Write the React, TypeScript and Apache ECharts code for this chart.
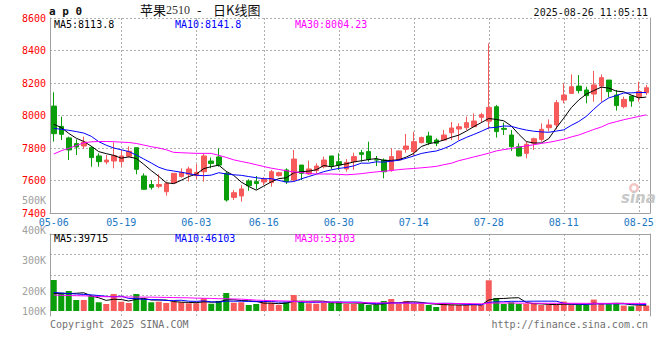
import React, { useEffect, useRef } from 'react';
import * as echarts from 'echarts';

// ---------- data ----------
const dates = [
  '05-06','05-07','05-08','05-09','05-12','05-13','05-14','05-15','05-16','05-19',
  '05-20','05-21','05-22','05-23','05-26','05-27','05-28','05-29','05-30',
  '06-03','06-04','06-05','06-06','06-09','06-10','06-11','06-12','06-13','06-16',
  '06-17','06-18','06-19','06-20','06-23','06-24','06-25','06-26','06-27','06-30',
  '07-01','07-02','07-03','07-04','07-07','07-08','07-09','07-10','07-11','07-14',
  '07-15','07-16','07-17','07-18','07-21','07-22','07-23','07-24','07-25','07-28',
  '07-29','07-30','07-31','08-01','08-04','08-05','08-06','08-07','08-08','08-11',
  '08-12','08-13','08-14','08-15','08-18','08-19','08-20','08-21','08-22','08-25','08-26',
];
const xTickLabels = ['05-06','05-19','06-03','06-16','06-30','07-14','07-28','08-11','08-25'];

const opens = [
  8058,7933,7862,7827,7812,7802,7751,7714,7720,7716,
  7749,7802,7628,7575,7564,7531,7585,7624,7638,7630,
  7654,7720,7745,7644,7496,7505,7597,7593,7591,7587,
  7630,7665,7603,7695,7640,7661,7685,7751,7716,7671,
  7716,7771,7778,7728,7726,7665,7726,7792,7778,7833,
  7874,7849,7849,7894,7917,7925,7931,7989,7965,8054,
  7921,7880,7808,7767,7829,7853,7925,7942,8095,8136,
  8181,8157,8132,8181,8218,8126,8054,8120,8112,8140,
];
const closes = [
  7888,7884,7788,7806,7837,7741,7716,7726,7753,7751,
  7780,7669,7546,7558,7575,7581,7644,7650,7671,7650,
  7751,7704,7695,7480,7525,7548,7568,7581,7607,7654,
  7648,7593,7732,7644,7671,7689,7726,7691,7695,7712,
  7747,7761,7730,7726,7654,7747,7782,7812,7839,7864,
  7833,7829,7880,7923,7931,7956,7966,8005,8050,7901,
  7915,7808,7751,7823,7857,7915,7942,8079,8126,8177,
  8153,8122,8188,8233,8147,8061,8099,8089,8147,8171,
];
const lows = [
  7839,7849,7726,7757,7794,7685,7685,7700,7675,7685,
  7741,7638,7546,7544,7552,7507,7581,7618,7593,7609,
  7593,7675,7685,7470,7480,7470,7537,7546,7572,7562,
  7624,7578,7593,7603,7634,7644,7675,7669,7665,7654,
  7665,7716,7716,7689,7613,7654,7722,7771,7751,7829,
  7818,7812,7845,7849,7849,7911,7931,7958,7915,7864,
  7880,7782,7747,7736,7788,7839,7901,7915,8075,8136,
  8136,8075,8085,8085,8112,8030,8044,8054,8085,8126,
];
const highs = [
  8143,7993,7870,7853,7870,7812,7767,7757,7835,7788,
  7810,7802,7644,7603,7638,7593,7644,7675,7685,7700,
  7767,7741,7798,7654,7541,7572,7607,7628,7620,7665,
  7654,7675,7788,7695,7722,7706,7747,7751,7767,7732,
  7771,7788,7839,7751,7736,7798,7784,7886,7900,7870,
  7900,7860,7911,7960,7952,7993,8013,8017,8444,8065,
  7956,7911,7829,7839,7864,7952,7976,8095,8198,8253,
  8249,8177,8274,8253,8218,8157,8116,8120,8208,8188,
];
// first moving-average points (their earlier closes are not shown in the picture)
const ma5Head = [7946, 7926, 7890, 7860];
const ma10Head = [7921, 7915, 7909, 7901, 7892, 7872, 7839, 7817, 7800];
const ma30 = [
  7763,7783,7798,7815,7832,7838,7840,7840,7839,7836,
  7834,7828,7818,7808,7800,7789,7773,7771,7769,7767,
  7767,7767,7755,7742,7727,7717,7708,7697,7686,7676,
  7668,7660,7653,7649,7643,7640,7640,7640,7638,7635,
  7638,7642,7648,7653,7657,7661,7667,7671,7674,7678,
  7682,7687,7697,7706,7722,7733,7745,7756,7768,7782,
  7790,7797,7805,7813,7820,7828,7835,7844,7854,7868,
  7880,7897,7914,7929,7950,7962,7974,7984,7994,8004,
];

const volumes = [
  217000,128000,140000,77000,77000,107000,61000,49000,119000,65000,
  56000,119000,84000,61000,65000,56000,65000,61000,54000,54000,
  89000,51000,70000,126000,58000,61000,42000,49000,65000,58000,
  42000,61000,112000,70000,54000,51000,56000,61000,65000,49000,
  49000,49000,42000,42000,70000,84000,49000,70000,49000,49000,
  42000,28000,56000,42000,42000,42000,42000,42000,215000,90000,
  49000,61000,49000,49000,49000,42000,42000,42000,66000,42000,
  42000,42000,80000,50000,48000,50000,38000,33000,40000,38000,
];
const volMa5Head = [124000, 122000, 122000, 124000];
const volMa10Head = [130000, 126000, 122000, 119000, 116000, 113000, 108000, 103000, 100000];
const volMa30 = [
  112000,110000,108000,107000,106000,104000,101000,100000,99000,99000,
  98000,98000,97000,97000,96000,95000,94000,93000,92000,90000,
  89000,88000,86000,86000,84000,83000,80000,76000,74000,72000,
  71000,70000,68000,66000,65000,64000,63000,62000,61000,60000,
  59000,58000,58000,57000,57000,56000,56000,55000,55000,54000,
  54000,53000,53000,52000,52000,52000,51000,50000,55000,56000,
  56000,56000,55000,55000,55000,54000,54000,54000,54000,54000,
  54000,53500,53500,53500,53300,53300,53200,53200,53100,53103,
];

const titleParts = ['苹果', '2510', '-', '日K线图'];
const priceLegend = ['MA5:8113.8', 'MA10:8141.8', 'MA30:8004.23'];
const volLegend = ['MA5:39715', 'MA10:46103', 'MA30:53103'];
const volTickLabels = ['500K', '400K', '300K', '200K', '100K'];

// ---------- styling ----------
const RED = '#f65a5a';
const GREEN = '#0a9e0a';
const MONO = '"DejaVu Sans Mono", "Liberation Mono", monospace';
const CJK = '"Noto Sans CJK SC", "Noto Sans", sans-serif';
const FRAME = '#a0a0a0';
const GRIDC = '#b0b0b0';
const LEGEND_COLORS = ['#000000', '#0000ff', '#ff00ff'];
const LEGEND_X = [54, 175, 295];
const TITLE_X = [140, 166, 197, 213];
const TITLE_Y = [9, 10, 9, 9];
const TITLE_FONT = [`13px ${CJK}`, '12px "Liberation Serif"', `13px ${CJK}`, `13px ${CJK}`];
const VOL_LABEL_Y = [200, 230, 260, 291, 311];

function movingAvg(values: number[], n: number, head: number[]) {
  return values.map((_, i) => {
    if (i < n - 1) return head[i];
    let s = 0;
    for (let k = i - n + 1; k <= i; k++) s += values[k];
    return Math.round((s / n) * 10) / 10;
  });
}

export default function App() {
  const ref = useRef<HTMLDivElement>(null);

  useEffect(() => {
    if (!ref.current) return;
    const chart = echarts.init(ref.current, undefined, { renderer: 'svg' });

    const ma5 = movingAvg(closes, 5, ma5Head);
    const ma10 = movingAvg(closes, 10, ma10Head);
    const vma5 = movingAvg(volumes, 5, volMa5Head);
    const vma10 = movingAvg(volumes, 10, volMa10Head);

    const showTick = (_i: number, v: string) => xTickLabels.includes(v);
    const showGrid = (i: number, v: string) => i > 0 && xTickLabels.includes(v);
    const dotted = { color: GRIDC, type: [2, 2], width: 1 };
    const frameLine = { show: true, onZero: false, lineStyle: { color: FRAME, width: 1 } };

    const texts: any[] = [];
    const addText = (text: string, x: number, y: number, fill: string, font: string, align = 'left') => {
      texts.push({
        type: 'text', x, y, silent: true, z: 10,
        style: { text, fill, font, textAlign: align, textVerticalAlign: 'middle' },
      });
    };
    addText('a p 0', 49, 11, '#111', `bold 11px ${MONO}`);
    titleParts.forEach((t, k) => addText(t, TITLE_X[k], TITLE_Y[k], k === 1 ? '#333' : '#111', TITLE_FONT[k]));
    addText('2025-08-26 11:05:11', 648, 12, '#111', `10px ${MONO}`, 'right');
    priceLegend.forEach((t, k) => addText(t, LEGEND_X[k], 24, LEGEND_COLORS[k], `10px ${MONO}`));
    volLegend.forEach((t, k) => addText(t, LEGEND_X[k], 238, LEGEND_COLORS[k], `10px ${MONO}`));
    volTickLabels.forEach((t, k) => addText(t, 46, VOL_LABEL_Y[k], '#a0a0a0', `10px ${MONO}`, 'right'));
    addText('Copyright 2025 SINA.COM', 50, 324, '#707070', `10px ${MONO}`);
    addText('http://finance.sina.com.cn', 648, 324, '#707070', `10px ${MONO}`, 'right');
    addText('sina', 621, 198, '#c8c8c8', `italic bold 15px "DejaVu Sans"`);
    texts.push({
      type: 'ring', silent: true, z: 9,
      shape: { cx: 634, cy: 188, r: 5, r0: 2.5 },
      style: { fill: 'rgba(235,150,150,0.55)' },
    });

    const option: any = {
      animation: false,
      backgroundColor: '#ffffff',
      textStyle: { fontFamily: MONO },
      grid: [
        { left: 50, right: 10, top: 18, height: 195 },
        { left: 50, right: 10, top: 234, height: 82 },
      ],
      xAxis: [
        {
          type: 'category', gridIndex: 0, data: dates, boundaryGap: true,
          axisLine: frameLine,
          axisTick: { show: false },
          axisLabel: { interval: showTick, color: '#1a78c2', fontFamily: MONO, fontSize: 10, margin: 4 },
          splitLine: { show: true, alignWithLabel: true, interval: showGrid, lineStyle: dotted },
        },
        {
          type: 'category', gridIndex: 1, data: dates, boundaryGap: true, position: 'top',
          axisLine: frameLine,
          axisTick: { show: false },
          axisLabel: { show: false },
          splitLine: { show: true, alignWithLabel: true, interval: showGrid, lineStyle: dotted },
        },
      ],
      yAxis: [
        {
          type: 'value', gridIndex: 0, min: 7400, max: 8600, interval: 200, position: 'left',
          axisLine: frameLine, axisTick: { show: false },
          axisLabel: {
            color: '#ff0000', fontFamily: MONO, fontSize: 10, margin: 4, padding: [0, 0, 4, 0],
            showMinLabel: true, showMaxLabel: true, formatter: (v: number) => String(v),
          },
          splitLine: { show: true, lineStyle: dotted },
        },
        {
          type: 'value', gridIndex: 0, min: 7400, max: 8600, interval: 200, position: 'right',
          axisLine: frameLine, axisTick: { show: false }, axisLabel: { show: false }, splitLine: { show: false },
        },
        {
          type: 'value', gridIndex: 1, min: -35000, max: 539000, interval: 143500, position: 'left',
          axisLine: frameLine, axisTick: { show: false }, axisLabel: { show: false },
          splitLine: { show: true, showMinLine: false, lineStyle: dotted },
        },
        {
          type: 'value', gridIndex: 1, min: -35000, max: 539000, interval: 143500, position: 'right',
          axisLine: frameLine, axisTick: { show: false }, axisLabel: { show: false }, splitLine: { show: false },
        },
      ],
      series: [
        {
          type: 'candlestick', xAxisIndex: 0, yAxisIndex: 0, z: 2,
          data: opens.map((o, i) => [o, closes[i], lows[i], highs[i]]),
          barWidth: 5,
          itemStyle: { color: RED, color0: GREEN, borderColor: RED, borderColor0: GREEN, borderWidth: 1 },
        },
        { type: 'line', xAxisIndex: 0, yAxisIndex: 0, data: ma5, symbol: 'none', z: 3, lineStyle: { color: '#000', width: 1 } },
        { type: 'line', xAxisIndex: 0, yAxisIndex: 0, data: ma10, symbol: 'none', z: 3, lineStyle: { color: '#0000ff', width: 1 } },
        { type: 'line', xAxisIndex: 0, yAxisIndex: 0, data: ma30, symbol: 'none', z: 3, lineStyle: { color: '#ff00ff', width: 1 } },
        {
          type: 'bar', xAxisIndex: 1, yAxisIndex: 2, z: 2, barWidth: 6,
          data: volumes.map((v, i) => ({ value: v, itemStyle: { color: closes[i] >= opens[i] ? RED : GREEN } })),
        },
        { type: 'line', xAxisIndex: 1, yAxisIndex: 2, data: vma5, symbol: 'none', z: 3, lineStyle: { color: '#000', width: 1 } },
        { type: 'line', xAxisIndex: 1, yAxisIndex: 2, data: vma10, symbol: 'none', z: 3, lineStyle: { color: '#0000ff', width: 1 } },
        { type: 'line', xAxisIndex: 1, yAxisIndex: 2, data: volMa30, symbol: 'none', z: 3, lineStyle: { color: '#ff00ff', width: 1 } },
      ],
      graphic: texts,
    };

    chart.setOption(option);
    return () => chart.dispose();
  }, []);

  return (
    <div
      ref={ref}
      style={{ position: 'fixed', left: 0, top: 0, width: 660, height: 360, background: '#fff' }}
    />
  );
}
